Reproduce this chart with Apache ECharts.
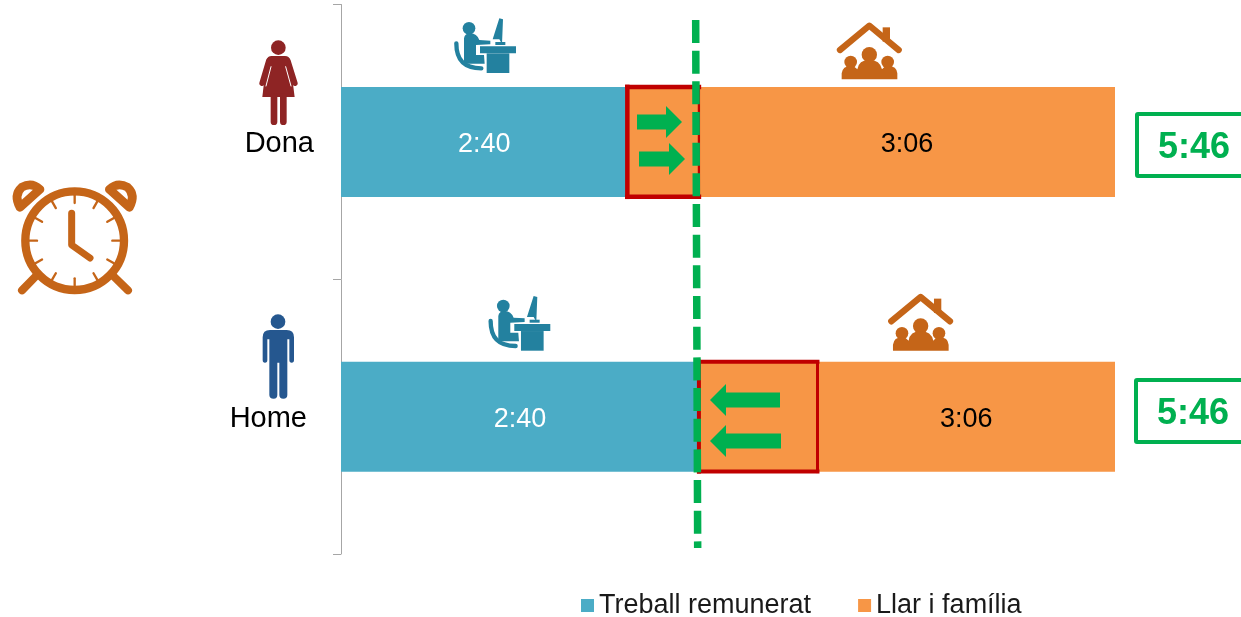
<!DOCTYPE html>
<html><head><meta charset="utf-8">
<style>html,body{margin:0;padding:0;background:#fff;overflow:hidden}#c{width:1241px;height:617px}</style>
<script src="https://cdn.jsdelivr.net/npm/echarts@6/dist/echarts.min.js"></script>
</head><body><div id="c"></div>
<script>
// Data (minutes)
const categories = ['Dona', 'Home'];
const paidMinutes = [128, 160];
const shiftedMinutes = [32, 53];
const homeMinutes = [186, 133];
const paidLabels = ['2:40', '2:40'];
const homeLabels = ['3:06', '3:06'];
const totalLabels = ['5:46', '5:46'];
const seriesNames = ['Treball remunerat', 'Llar i família'];
const dividerMinute = 159;

const FONT = '"Liberation Sans", Arial, sans-serif';
const BLUE = '#4BACC6', ORANGE = '#F79646', RED = '#C00000', GREEN = '#00B050';
const TEAL = '#23819F', BROWN = '#C56518', WOMAN = '#8E2424', MAN = '#25578F';

const line = (pts, w, color) => ({
  type: 'polyline',
  shape: { points: pts },
  style: { stroke: color, lineWidth: w, fill: null, lineCap: 'round', lineJoin: 'round' }
});
const circle = (cx, cy, r, color) => ({ type: 'circle', shape: { cx, cy, r }, style: { fill: color } });
const poly = (pts, color) => ({ type: 'polygon', shape: { points: pts }, style: { fill: color } });
const path = (d, style) => ({ type: 'path', shape: { pathData: d }, style });
// every icon is drawn in 3x coordinates and scaled down
const icon = (x, y, children) => ({ type: 'group', x, y, scaleX: 1 / 3, scaleY: 1 / 3, children });

function worker(x, y) {
  return icon(x, y, [
    circle(117, 85, 19, TEAL),
    path('M79,130 C79,178 100,205 154,205', { stroke: TEAL, lineWidth: 13, fill: null, lineCap: 'round' }),
    path('M102,115 Q104,100 122,100 Q140,100 148,120 L181,122 L181,133 L138,135 L138,165 L162,165 L164,191 L102,191 Z', { fill: TEAL }),
    poly([[150, 139], [258, 139], [258, 160], [150, 160]], TEAL),
    poly([[170, 160], [238, 160], [238, 219], [170, 219]], TEAL),
    poly([[188, 118], [208, 55], [219, 58], [216, 132], [208, 118]], TEAL),
    poly([[196, 126], [226, 126], [226, 135], [196, 135]], TEAL)
  ]);
}
function house(x, y) {
  return icon(x, y, [
    poly([[188, 52], [210, 52], [210, 95], [188, 95]], BROWN),
    line([[60, 120], [148, 47], [236, 120]], 19, BROWN),
    circle(148, 134, 23, BROWN),
    circle(92, 156, 19, BROWN),
    circle(203, 156, 19, BROWN),
    path('M65,208 L65,190 Q68,168 92,168 L100,168 L112,178 Q116,150 148,150 Q180,150 186,178 L196,168 L205,168 Q230,168 232,190 L232,208 Z', { fill: BROWN })
  ]);
}
const clockTicks = [];
for (let k = 0; k < 12; k++) {
  const a = k * Math.PI / 6;
  clockTicks.push(line([[224 + 136 * Math.cos(a), 722 + 136 * Math.sin(a)], [224 + 113 * Math.cos(a), 722 + 113 * Math.sin(a)]], 7, BROWN));
}
const clock = icon(0, 0, [
  line([[108, 828], [66, 871]], 24, BROWN),
  line([[340, 828], [384, 871]], 24, BROWN),
  { type: 'circle', shape: { cx: 224, cy: 722, r: 148 }, style: { fill: '#fff', stroke: BROWN, lineWidth: 25 } },
  ...clockTicks,
  line([[215, 640], [215, 735], [270, 774]], 21, BROWN),
  path('M60,622 Q40,585 65,562 Q95,545 120,568 Z', { fill: '#fff', stroke: BROWN, lineWidth: 26, lineJoin: 'round' }),
  path('M388,622 Q408,585 383,562 Q353,545 328,568 Z', { fill: '#fff', stroke: BROWN, lineWidth: 26, lineJoin: 'round' })
]);
const woman = icon(0, 0, [
  circle(835, 143, 22, WOMAN),
  line([[806, 182], [786, 250]], 16, WOMAN),
  line([[864, 182], [885, 250]], 16, WOMAN),
  path('M800,180 Q802,168 815,168 L855,168 Q868,168 870,180 L884,291 L787,291 Z', { fill: WOMAN }),
  line([[813, 200], [798, 258]], 3, '#fff'),
  line([[857, 200], [873, 258]], 3, '#fff'),
  line([[822, 290], [822, 365]], 20, WOMAN),
  line([[850, 290], [850, 365]], 20, WOMAN)
]);
const man = icon(0, 280, [
  circle(834, 125, 22, MAN),
  path('M788,172 Q788,150 810,150 L860,150 Q882,150 882,172 L882,240 Q882,248 875,248 Q868,248 868,240 L868,178 L862,178 L862,345 Q862,356 850,356 Q838,356 838,345 L838,248 L832,248 L832,345 Q832,356 821,356 Q808,356 808,345 L808,178 L802,178 L802,240 Q802,248 795,248 Q788,248 788,240 Z', { fill: MAN })
]);

const arrow = (tail, headBase, tip, cy) => ({
  type: 'polygon',
  shape: { points: [[tail, cy - 7.5], [headBase, cy - 7.5], [headBase, cy - 16], [tip, cy], [headBase, cy + 16], [headBase, cy + 7.5], [tail, cy + 7.5]] },
  style: { fill: GREEN }
});

const totalBox = (left, top, bottom, label, textX, textY) => [
  { type: 'rect', shape: { x: left, y: top, width: 140, height: bottom - top, r: 1 }, style: { fill: '#fff', stroke: GREEN, lineWidth: 4 } },
  { type: 'text', x: textX, y: textY, style: { text: label, fill: GREEN, font: 'bold 36px ' + FONT, textAlign: 'center', textVerticalAlign: 'middle' } }
];

const frameData = categories.map((c, i) => [paidMinutes[i], paidMinutes[i] + shiftedMinutes[i], i]);
const frameStroke = [{ side: 4.5, right: 2.3 }, { side: 4, right: 3 }];

const option = {
  animation: false,
  backgroundColor: '#fff',
  textStyle: { fontFamily: FONT },
  grid: { left: 341, right: 126, top: 4.5, height: 549.5, containLabel: false },
  xAxis: { type: 'value', min: 0, max: 346, show: false },
  yAxis: {
    type: 'category', data: categories, inverse: true,
    axisLine: { show: true, lineStyle: { color: '#A6A6A6', width: 1 } },
    axisTick: { show: true, length: 8, lineStyle: { color: '#A6A6A6', width: 1 } },
    axisLabel: {
      margin: 27, color: '#000', fontFamily: FONT, fontSize: 29,
      formatter: v => '{' + v + '|' + v + '}',
      rich: {
        Dona: { fontSize: 29, fontFamily: FONT, color: '#000', padding: [4, 0, 0, 0] },
        Home: { fontSize: 29, fontFamily: FONT, color: '#000', padding: [4, 7, 0, 0] }
      }
    }
  },
  legend: {
    data: seriesNames, left: 581, top: 592, padding: 0, itemWidth: 13, itemHeight: 13, itemGap: 47, icon: 'rect',
    textStyle: { fontFamily: FONT, fontSize: 27, color: '#1a1a1a' }, selectedMode: false
  },
  series: [
    {
      name: seriesNames[0], type: 'bar', stack: 't', barWidth: 110, data: paidMinutes, itemStyle: { color: BLUE },
      label: { show: true, position: 'inside', offset: [0, 3], color: '#fff', fontSize: 27, fontFamily: FONT, formatter: p => paidLabels[p.dataIndex] }
    },
    { name: 'Desplaçament', type: 'bar', stack: 't', barWidth: 110, data: shiftedMinutes, itemStyle: { color: ORANGE } },
    {
      name: seriesNames[1], type: 'bar', stack: 't', barWidth: 110, data: homeMinutes, itemStyle: { color: ORANGE },
      label: { show: true, position: 'inside', offset: [0, 3], color: '#000', fontSize: 27, fontFamily: FONT, formatter: p => homeLabels[p.dataIndex] }
    },
    {
      name: 'Marc', type: 'custom', z: 5, data: frameData, encode: { x: [0, 1], y: 2 },
      renderItem(params, api) {
        const a = api.coord([api.value(0), api.value(2)]);
        const b = api.coord([api.value(1), api.value(2)]);
        const h = api.size([0, 1])[1] * 0.2;
        const w = frameStroke[params.dataIndex];
        const seg = (x1, y1, x2, y2, lw) => ({
          type: 'line', shape: { x1, y1, x2, y2 },
          style: { stroke: RED, lineWidth: lw, lineCap: 'square', fill: null }
        });
        return {
          type: 'group', children: [
            seg(a[0], a[1] - h, b[0], a[1] - h, w.side),
            seg(a[0], a[1] + h, b[0], a[1] + h, w.side),
            seg(a[0], a[1] - h, a[0], a[1] + h, w.side),
            seg(b[0], a[1] - h, b[0], a[1] + h, w.right)
          ]
        };
      }
    },
    {
      name: 'Divisòria', type: 'custom', z: 8, data: [[dividerMinute, 0]], encode: { x: 0, y: 1 },
      renderItem(params, api) {
        const x = api.coord([api.value(0), 0])[0];
        return {
          type: 'line', shape: { x1: x - 1, y1: 20, x2: x + 1, y2: 548 },
          style: { stroke: GREEN, lineWidth: 7.5, lineDash: [23, 7.67], fill: null }
        };
      }
    },
    {
      name: 'Icones', type: 'custom', z: 10, silent: true, data: [[0, 0]], encode: { x: 0, y: 1 },
      renderItem() {
        return {
          type: 'group', children: [
            clock, woman, man,
            worker(430, 0), worker(464.3, 277.7),
            house(820, 10), house(871.3, 281.3),
            arrow(637, 666, 682, 122),
            arrow(639, 669, 685, 159),
            arrow(780, 726, 710, 400),
            arrow(781, 726, 710, 441)
          ]
        };
      }
    }
  ],
  graphic: { elements: [
    ...totalBox(1137, 114, 176, totalLabels[0], 1194, 148),
    ...totalBox(1136, 380, 442, totalLabels[1], 1193, 414)
  ] }
};
const chart = echarts.init(document.getElementById('c'));
chart.setOption(option);
</script></body></html>
